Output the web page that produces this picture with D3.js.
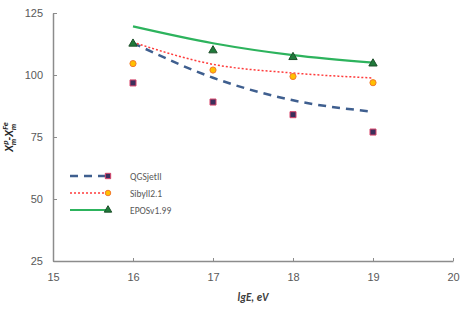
<!DOCTYPE html>
<html>
<head>
<meta charset="utf-8">
<script src="https://cdn.jsdelivr.net/npm/d3@7"></script>
<style>
  body { margin: 0; background: #fff; }
  svg { display: block; font-family: Calibri, Carlito, "Liberation Sans", sans-serif; }
</style>
</head>
<body>
<div class="root"></div>
<script>
// energies, lg(E/eV)
const energies = [16, 17, 18, 19];

// model points (markers)
const qgsPoints = [96.8, 89.1, 84.0, 77.0];
const sibyllPoints = [104.6, 102.0, 99.4, 96.9];
const eposPoints = [112.6, 109.9, 107.2, 104.6];

// model curves (lines)
const qgsLine = [112.9, 98.9, 89.8, 85.2];
const sibyllLine = [113.2, 104.3, 100.8, 98.8];
const eposLine = [119.6, 112.8, 108.0, 105.0];

const xTicks = [15, 16, 17, 18, 19, 20];
const yTicks = [25, 50, 75, 100, 125];
const seriesNames = ['QGSjetII', 'Sibyll2.1', 'EPOSv1.99'];

const width = 469, height = 312;
const margin = { top: 13, right: 16, bottom: 51, left: 53 };

const svg = d3.select('.root')
  .append('svg')
  .attr('width', width)
  .attr('height', height);

const x = d3.scaleLinear().domain([15, 20]).range([margin.left, width - margin.right]);
const y = d3.scaleLinear().domain([25, 125]).range([height - margin.bottom, margin.top]);

const axisColor = '#8c8c8c';
const labelColor = '#595959';

// axes
const xAxis = svg.append('g')
  .attr('transform', `translate(0, ${y(25)})`)
  .call(d3.axisBottom(x).tickValues(xTicks).tickFormat(d3.format('d'))
    .tickSizeInner(-3).tickSizeOuter(0).tickPadding(12));

const yAxis = svg.append('g')
  .attr('transform', `translate(${x(15)}, 0)`)
  .call(d3.axisLeft(y).tickValues(yTicks).tickFormat(d3.format('d'))
    .tickSizeInner(-4).tickSizeOuter(0).tickPadding(10));

[xAxis, yAxis].forEach(g => {
  g.select('.domain').attr('stroke', axisColor).attr('stroke-width', 1.5);
  g.selectAll('.tick line').attr('stroke', axisColor).attr('stroke-width', 1);
  g.selectAll('.tick text').attr('fill', labelColor).style('font-size', '11px');
});

const series = [
  { name: seriesNames[0], line: qgsLine, points: qgsPoints, stroke: '#3f5f8f', width: 2.5, dash: '8,6', shape: d3.symbolSquare, size: 36, fill: '#3b2f5c', edge: '#d9446a' },
  { name: seriesNames[1], line: sibyllLine, points: sibyllPoints, stroke: '#ff3b3b', width: 1.5, dash: '2,2', shape: d3.symbolCircle, size: 30, fill: '#ffc000', edge: '#f27a2f' },
  { name: seriesNames[2], line: eposLine, points: eposPoints, stroke: '#2db35d', width: 2.2, dash: null, shape: d3.symbolTriangle, size: 30, fill: '#1f7a3a', edge: '#1d4f2a' }
];

const line = d3.line()
  .x((d, i) => x(energies[i]))
  .y(d => y(d))
  .curve(d3.curveMonotoneX);

series.forEach(s => {
  svg.append('path')
    .datum(s.line)
    .attr('fill', 'none')
    .attr('stroke', s.stroke)
    .attr('stroke-width', s.width)
    .attr('stroke-dasharray', s.dash)
    .attr('d', line);
});

series.forEach(s => {
  svg.selectAll(null)
    .data(s.points)
    .enter()
    .append('path')
    .attr('d', d3.symbol().type(s.shape).size(s.size))
    .attr('transform', (d, i) => `translate(${x(energies[i])}, ${y(d)})`)
    .attr('fill', s.fill)
    .attr('stroke', s.edge)
    .attr('stroke-width', 1);
});

// legend
const legend = svg.append('g').attr('transform', 'translate(70, 176)');
series.forEach((s, i) => {
  const row = legend.append('g').attr('transform', `translate(0, ${i * 17})`);
  row.append('line')
    .attr('x1', 0).attr('x2', 38).attr('y1', 0).attr('y2', 0)
    .attr('stroke', s.stroke)
    .attr('stroke-width', s.width)
    .attr('stroke-dasharray', s.dash);
  row.append('path')
    .attr('d', d3.symbol().type(s.shape).size(s.size * 0.8))
    .attr('transform', 'translate(38, 0)')
    .attr('fill', s.fill)
    .attr('stroke', s.edge);
  row.append('text')
    .attr('x', 60).attr('y', 3.5)
    .attr('fill', labelColor)
    .style('font-size', '9.5px')
    .text(s.name);
});

// axis titles
svg.append('text')
  .attr('x', 253).attr('y', 301)
  .attr('text-anchor', 'middle')
  .attr('fill', '#404040')
  .style('font-size', '11px')
  .style('font-weight', 'bold')
  .style('font-style', 'italic')
  .text('lgE, eV');

const yTitle = svg.append('text')
  .attr('transform', `translate(13, ${y(75)}) rotate(-90)`)
  .attr('text-anchor', 'middle')
  .attr('fill', '#262626')
  .style('font-size', '12px')
  .style('font-weight', 'bold')
  .style('font-style', 'italic');
yTitle.append('tspan').text('X');
yTitle.append('tspan').attr('dy', 3).style('font-size', '8px').text('m');
yTitle.append('tspan').attr('dy', -8).attr('dx', -6).style('font-size', '8px').text('p');
yTitle.append('tspan').attr('dy', 5).text('-X');
yTitle.append('tspan').attr('dy', 3).style('font-size', '8px').text('m');
yTitle.append('tspan').attr('dy', -8).attr('dx', -6).style('font-size', '8px').text('Fe');
</script>
</body>
</html>
